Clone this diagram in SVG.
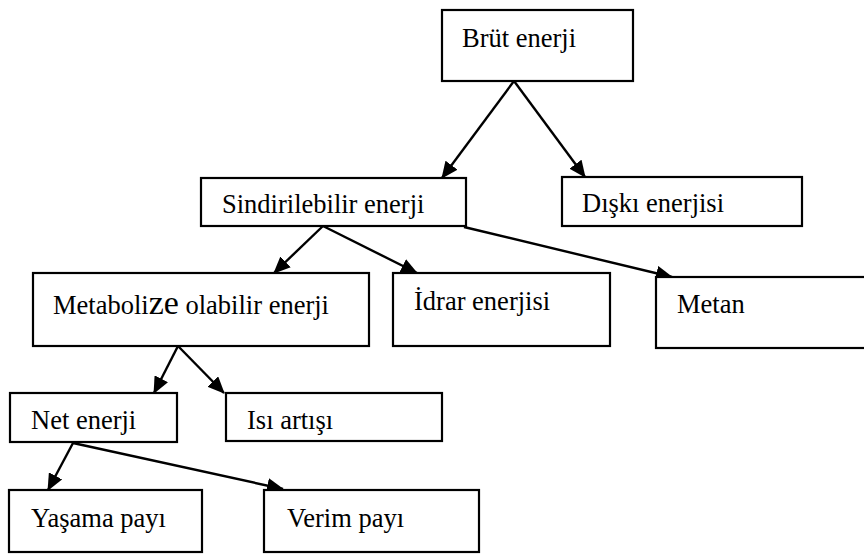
<svg xmlns="http://www.w3.org/2000/svg" width="864" height="554" viewBox="0 0 864 554">
<style>
.box{fill:#fff;stroke:#000;stroke-width:2.2}
.t{font-family:'Liberation Serif','Tinos','Noto Serif','DejaVu Serif',serif;font-size:26.5px;fill:#000}
.big{font-size:34px}
.c{stroke:#000;stroke-width:2.4;fill:none;marker-end:url(#ah)}
</style>
<defs>
<marker id="ah" markerUnits="userSpaceOnUse" markerWidth="17" markerHeight="15" refX="16" refY="7.5" orient="auto">
<path d="M0,0 L17,7.5 L0,15 Z" fill="#000"/>
</marker>
</defs>
<rect width="864" height="554" fill="#fff"/>
<g id="connectors">
<line class="c" x1="514" y1="81" x2="442" y2="178"/>
<line class="c" x1="514" y1="81" x2="585" y2="177"/>
<line class="c" x1="323" y1="226" x2="274" y2="273"/>
<line class="c" x1="323" y1="226" x2="417" y2="273"/>
<line class="c" x1="464" y1="227" x2="672" y2="277"/>
<line class="c" x1="178" y1="346" x2="154" y2="393"/>
<line class="c" x1="178" y1="346" x2="224" y2="393"/>
<line class="c" x1="73" y1="443" x2="48" y2="490"/>
<line class="c" x1="73" y1="443" x2="283" y2="489"/>
</g>
<g id="brut"><rect class="box" x="442" y="10" width="191" height="71"/><text class="t" x="462" y="47">Brüt enerji</text></g>
<g id="sindirilebilir"><rect class="box" x="201" y="178" width="265" height="48"/><text class="t" x="222" y="213">Sindirilebilir enerji</text></g>
<g id="diski"><rect class="box" x="562" y="177" width="240" height="49"/><text class="t" x="582" y="212">Dışkı enerjisi</text></g>
<g id="metabolize"><rect class="box" x="33" y="273" width="336" height="73"/><text class="t" x="53" y="314">Metaboli<tspan class="big">ze</tspan> olabilir enerji</text></g>
<g id="idrar"><rect class="box" x="393" y="273" width="217" height="73"/><text class="t" x="414" y="310">İdrar enerjisi</text></g>
<g id="metan"><rect class="box" x="656" y="277" width="212" height="71"/><text class="t" x="677" y="313">Metan</text></g>
<g id="net"><rect class="box" x="10" y="393" width="167" height="49"/><text class="t" x="31" y="429">Net enerji</text></g>
<g id="isi"><rect class="box" x="226" y="393" width="216" height="48"/><text class="t" x="247" y="429">Isı artışı</text></g>
<g id="yasama"><rect class="box" x="9" y="490" width="193" height="62"/><text class="t" x="31" y="527">Yaşama payı</text></g>
<g id="verim"><rect class="box" x="264" y="490" width="215" height="62"/><text class="t" x="287" y="527">Verim payı</text></g>
</svg>
